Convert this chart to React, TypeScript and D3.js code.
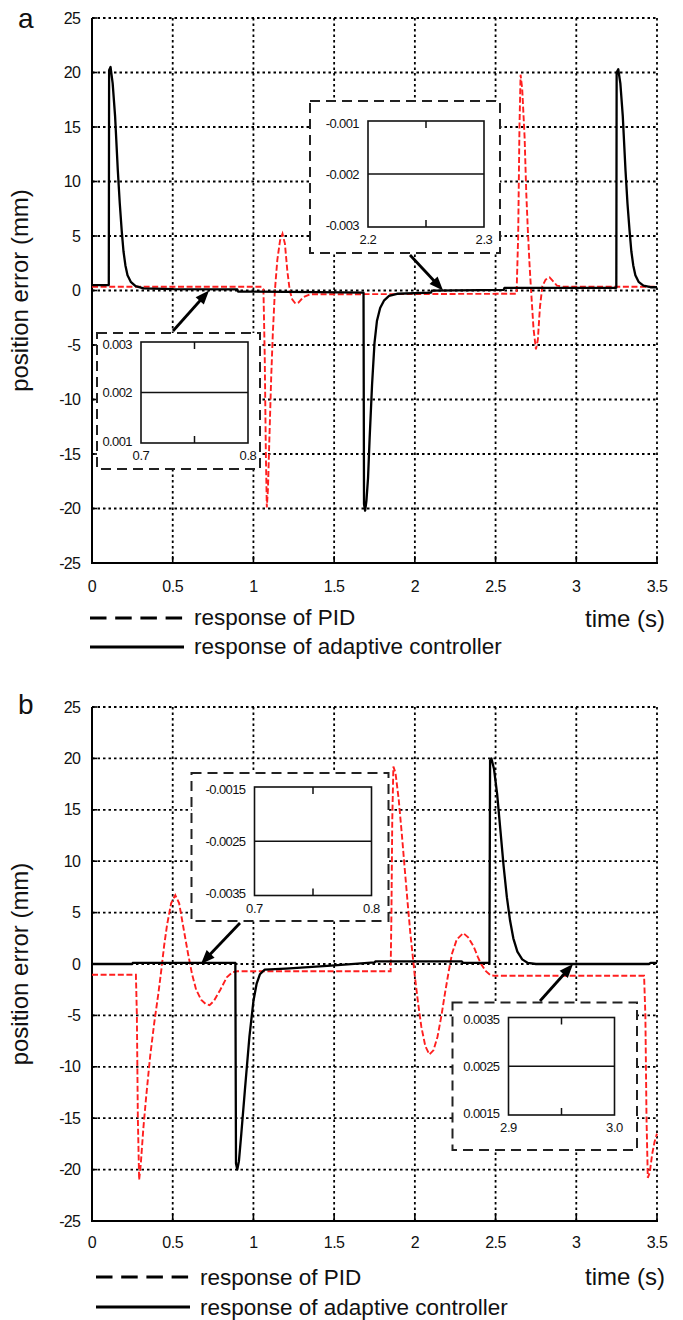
import React from "react";
import * as d3 from "d3";

type Pt = [number, number];

// ---------- data ----------
const xTicks = [0, 0.5, 1, 1.5, 2, 2.5, 3, 3.5];
const xTickLabels = ["0", "0.5", "1", "1.5", "2", "2.5", "3", "3.5"];
const yTicks = [25, 20, 15, 10, 5, 0, -5, -10, -15, -20, -25];
const yTickLabels = ["25", "20", "15", "10", "5", "0", "-5", "-10", "-15", "-20", "-25"];
const legendLabels = ["response of PID", "response of adaptive controller"];
const xTitle = "time (s)";
const yTitle = "position error (mm)";
const panelLetters = ["a", "b"];

const aAdaptive: Pt[] = [
  [0, 0.5], [0.104, 0.5], [0.106, 20.2], [0.115, 20.5], [0.128, 19], [0.143, 16], [0.16, 11], [0.172, 8],
  [0.184, 5.5], [0.195, 3.6], [0.207, 2.3], [0.22, 1.4], [0.24, 0.8], [0.27, 0.4], [0.32, 0.2], [0.5, 0.12],
  [0.9, 0.1], [0.905, -0.1], [1.4, -0.15], [1.682, -0.2], [1.685, -19.6], [1.692, -20.2], [1.7, -19.3],
  [1.71, -17.2], [1.72, -13.5], [1.735, -8.6], [1.75, -4.8], [1.765, -2.8], [1.785, -1.6], [1.81, -0.9],
  [1.84, -0.5], [1.89, -0.3], [2.1, -0.2], [2.105, -0.02], [2.55, 0.05], [2.555, 0.25], [3.248, 0.25],
  [3.25, 20.0], [3.26, 20.3], [3.273, 19], [3.288, 16], [3.305, 11], [3.317, 8], [3.33, 5.5], [3.341, 3.6],
  [3.353, 2.3], [3.366, 1.4], [3.386, 0.8], [3.416, 0.45], [3.46, 0.3], [3.5, 0.3],
];
const aPID: Pt[] = [
  [0, 0.35], [1.05, 0.35], [1.062, 0.1], [1.07, -6], [1.077, -15], [1.083, -19.9], [1.09, -18.2], [1.1, -13],
  [1.11, -8], [1.12, -4], [1.133, 0], [1.148, 2.8], [1.165, 4.6], [1.18, 5.2], [1.195, 4.3], [1.21, 1.8],
  [1.225, 0], [1.24, -0.8], [1.26, -1.2], [1.28, -1.1], [1.31, -0.6], [1.35, -0.35], [2.63, -0.3], [2.64, 5],
  [2.648, 15], [2.655, 19.8], [2.665, 18.5], [2.68, 14], [2.69, 9], [2.7, 5.5], [2.71, 2.5], [2.72, 0],
  [2.735, -3.5], [2.75, -5.4], [2.762, -4.5], [2.775, -1.5], [2.79, 0.4], [2.81, 1.0], [2.835, 1.2],
  [2.86, 0.8], [2.88, 0.45], [2.92, 0.35], [3.5, 0.35],
];
const bAdaptive: Pt[] = [
  [0, 0], [0.25, 0], [0.252, 0.1], [0.888, 0.1], [0.892, -19.4], [0.9, -20], [0.91, -19.2], [0.925, -16.5],
  [0.947, -12.3], [0.975, -7.1], [1.0, -3.6], [1.02, -1.9], [1.04, -1.0], [1.07, -0.55], [1.2, -0.45],
  [1.48, -0.15], [1.75, 0.15], [1.755, 0.25], [2.29, 0.25], [2.3, 0.1], [2.462, 0.12], [2.466, 19.8],
  [2.474, 20], [2.49, 19], [2.51, 16.5], [2.53, 13], [2.55, 9.5], [2.57, 6.5], [2.59, 4.2], [2.61, 2.5],
  [2.635, 1.2], [2.665, 0.45], [2.7, 0.1], [2.75, 0], [3.45, 0], [3.46, 0.1], [3.5, 0.1],
];
const bPID: Pt[] = [
  [0, -1.05], [0.272, -1.05], [0.278, -5], [0.284, -15], [0.292, -21.0], [0.302, -19.5], [0.318, -16],
  [0.335, -13], [0.36, -9], [0.385, -5.8], [0.41, -3], [0.43, -0.5], [0.447, 1.8], [0.465, 3.8], [0.49, 5.9],
  [0.516, 6.7], [0.54, 5.9], [0.57, 3.2], [0.595, 1.0], [0.62, -1.0], [0.645, -2.5], [0.677, -3.5],
  [0.705, -3.9], [0.728, -4.0], [0.755, -3.6], [0.795, -2.5], [0.835, -1.3], [0.87, -0.8], [0.9, -0.7],
  [1.85, -0.7], [1.855, 5], [1.86, 14], [1.867, 19.2], [1.88, 18.6], [1.9, 16], [1.92, 12.5], [1.936, 9.5],
  [1.955, 6], [1.972, 3.0], [2.0, -1.2], [2.02, -3.8], [2.04, -6.1], [2.065, -8.0], [2.09, -8.8],
  [2.115, -8.4], [2.14, -7.1], [2.165, -5.0], [2.186, -2.9], [2.21, -0.7], [2.23, 1.0], [2.26, 2.4],
  [2.3, 3.0], [2.33, 2.6], [2.364, 1.7], [2.39, 0.7], [2.41, 0.0], [2.44, -0.7], [2.47, -1.1], [2.5, -1.15],
  [3.42, -1.15], [3.428, -5], [3.435, -15], [3.443, -20.8], [3.455, -20.3], [3.47, -18.5], [3.485, -17.3],
  [3.5, -16.5],
];

// inset data (zoomed axes)
const insetA1Y = [0.001, 0.002, 0.003];
const insetA1YLabels = ["0.001", "0.002", "0.003"];
const insetA1X = [0.7, 0.8];
const insetA1XLabels = ["0.7", "0.8"];
const insetA1Level = 0.002;
const insetA1Target = 0.725;

const insetA2Y = [-0.003, -0.002, -0.001];
const insetA2YLabels = ["-0.003", "-0.002", "-0.001"];
const insetA2X = [2.2, 2.3];
const insetA2XLabels = ["2.2", "2.3"];
const insetA2Level = -0.002;
const insetA2Target = 2.175;

const insetB1Y = [-0.0035, -0.0025, -0.0015];
const insetB1YLabels = ["-0.0035", "-0.0025", "-0.0015"];
const insetB1X = [0.7, 0.8];
const insetB1XLabels = ["0.7", "0.8"];
const insetB1Level = -0.0025;
const insetB1Target = 0.675;

const insetB2Y = [0.0015, 0.0025, 0.0035];
const insetB2YLabels = ["0.0015", "0.0025", "0.0035"];
const insetB2X = [2.9, 3.0];
const insetB2XLabels = ["2.9", "3.0"];
const insetB2Level = 0.0025;
const insetB2Target = 2.98;

// ---------- layout ----------
const FONT = "'Liberation Sans', Arial, Helvetica, sans-serif";
const RED = "#ff1f1f";

const layoutA = {
  left: 92, right: 657, top: 18, bottom: 563, letterY: 28, tickLabelY: 592,
  legX1: 90, legX2: 184, legTextX: 194, legY1: 618, legY2: 647, legDy: 6.5, timeY: 627,
};
const layoutB = {
  left: 92, right: 657, top: 707, bottom: 1221, letterY: 714, tickLabelY: 1248,
  legX1: 96, legX2: 190, legTextX: 200, legY1: 1277, legY2: 1307, legDy: 7.5, timeY: 1285,
};

type InsetProps = {
  box: number[]; inner: number[]; yVals: number[]; yLabels: string[]; xVals: number[]; xLabels: string[];
  level: number; from: Pt; tip: Pt;
};

const Inset = ({ box, inner, yVals, yLabels, xVals, xLabels, level, from, tip }: InsetProps) => {
  const ix = d3.scaleLinear().domain([xVals[0], xVals[xVals.length - 1]]).range([inner[0], inner[2]]);
  const iy = d3.scaleLinear().domain([yVals[0], yVals[yVals.length - 1]]).range([inner[3], inner[1]]);
  const mid = (xVals[0] + xVals[xVals.length - 1]) / 2;
  const dx = tip[0] - from[0], dy = tip[1] - from[1];
  const len = Math.hypot(dx, dy);
  const ux = dx / len, uy = dy / len;
  const hl = 14, hw = 5.5;
  const bx = tip[0] - ux * hl, by = tip[1] - uy * hl;
  const head = `${tip[0]},${tip[1]} ${bx - uy * hw},${by + ux * hw} ${bx + uy * hw},${by - ux * hw}`;
  return (
    <g>
      <rect x={box[0]} y={box[1]} width={box[2] - box[0]} height={box[3] - box[1]} fill="#fff"
        stroke="#222" strokeWidth={2} strokeDasharray="10,6" />
      <rect x={inner[0]} y={inner[1]} width={inner[2] - inner[0]} height={inner[3] - inner[1]} fill="#fff"
        stroke="#111" strokeWidth={1.6} />
      <line x1={inner[0]} x2={inner[2]} y1={iy(level)} y2={iy(level)} stroke="#111" strokeWidth={1.5} />
      <line x1={ix(mid)} x2={ix(mid)} y1={inner[1]} y2={inner[1] + 7} stroke="#111" strokeWidth={1.5} />
      <line x1={ix(mid)} x2={ix(mid)} y1={inner[3]} y2={inner[3] - 7} stroke="#111" strokeWidth={1.5} />
      {yVals.map((v, i) => {
        const yy = iy(v) + (i === 0 ? -2 : i === yVals.length - 1 ? 2 : 0);
        return (
          <text key={"iy" + i} x={inner[0] - 9} y={yy} textAnchor="end" dominantBaseline="central"
            fontFamily={FONT} fontSize={13} fill="#111" letterSpacing={-0.6}>{yLabels[i]}</text>
        );
      })}
      {xVals.map((v, i) => (
        <text key={"ix" + i} x={ix(v)} y={inner[3] + 12.5} textAnchor="middle" dominantBaseline="central"
          fontFamily={FONT} fontSize={13} fill="#111" letterSpacing={-0.4}>{xLabels[i]}</text>
      ))}
      <line x1={from[0]} y1={from[1]} x2={bx + ux * 2} y2={by + uy * 2} stroke="#000" strokeWidth={2.8} />
      <polygon points={head} fill="#000" />
    </g>
  );
};

type PanelProps = {
  L: typeof layoutA; adaptive: Pt[]; pid: Pt[]; letter: string; id: string;
  insets: (x: d3.ScaleLinear<number, number>, y: d3.ScaleLinear<number, number>) => React.ReactNode;
};

const Panel = ({ L, adaptive, pid, letter, id, insets }: PanelProps) => {
  const x = d3.scaleLinear().domain([0, 3.5]).range([L.left, L.right]);
  const y = d3.scaleLinear().domain([-25, 25]).range([L.bottom, L.top]);
  const line = d3.line<Pt>().x((d) => x(d[0])).y((d) => y(d[1]));
  const gridStyle = { stroke: "#000", strokeWidth: 1.8, strokeDasharray: "2.5,3" };
  return (
    <g>
      <defs>
        <clipPath id={id}>
          <rect x={L.left} y={L.top - 2} width={L.right - L.left + 2} height={L.bottom - L.top + 2} />
        </clipPath>
      </defs>
      {xTicks.filter((t) => t > 0).map((t, i) => (
        <line key={"gx" + i} x1={x(t)} x2={x(t)} y1={L.top} y2={L.bottom} {...gridStyle} />
      ))}
      {yTicks.filter((v) => v > -25).map((v, i) => (
        <line key={"gy" + i} x1={L.left} x2={L.right} y1={y(v)} y2={y(v)} {...gridStyle} />
      ))}
      {xTicks.map((t, i) => (
        <line key={"tx" + i} x1={x(t)} x2={x(t)} y1={L.bottom} y2={L.bottom - 7} stroke="#000" strokeWidth={1.6} />
      ))}
      {yTicks.map((v, i) => (
        <line key={"ty" + i} x1={L.left} x2={L.left + 5} y1={y(v)} y2={y(v)} stroke="#000" strokeWidth={1.6} />
      ))}
      <line x1={L.left} x2={L.left} y1={L.top} y2={L.bottom} stroke="#000" strokeWidth={2} />
      <line x1={L.left - 1} x2={L.right + 1} y1={L.bottom} y2={L.bottom} stroke="#000" strokeWidth={2} />
      <g clipPath={`url(#${id})`}>
        <path d={line(pid) || ""} fill="none" stroke={RED} strokeWidth={1.9} strokeDasharray="6,2.6" />
        <path d={line(adaptive) || ""} fill="none" stroke="#000" strokeWidth={2.3} strokeLinejoin="round" />
      </g>
      {yTicks.map((v, i) => (
        <text key={"yl" + i} x={L.left - 12} y={y(v)} textAnchor="end" dominantBaseline="central"
          fontFamily={FONT} fontSize={16} fill="#111" letterSpacing={-0.8}>{yTickLabels[i]}</text>
      ))}
      {xTicks.map((t, i) => (
        <text key={"xl" + i} x={x(t)} y={L.tickLabelY} textAnchor="middle" fontFamily={FONT} fontSize={16}
          fill="#111" letterSpacing={-0.5}>{xTickLabels[i]}</text>
      ))}
      <text x={28} y={y(0)} transform={`rotate(-90 28 ${y(0)})`} textAnchor="middle" fontFamily={FONT}
        fontSize={24} fill="#111">{yTitle}</text>
      <text x={18} y={L.letterY} fontFamily={FONT} fontSize={28} fill="#111">{letter}</text>
      <text x={665} y={L.timeY} textAnchor="end" fontFamily={FONT} fontSize={24} fill="#111">{xTitle}</text>
      <line x1={L.legX1} x2={L.legX2} y1={L.legY1} y2={L.legY1} stroke="#000" strokeWidth={3}
        strokeDasharray="16.5,8.7" />
      <line x1={L.legX1} x2={L.legX2} y1={L.legY2} y2={L.legY2} stroke="#000" strokeWidth={3} />
      <text x={L.legTextX} y={L.legY1 + L.legDy} fontFamily={FONT} fontSize={22.5} fill="#111">{legendLabels[0]}</text>
      <text x={L.legTextX} y={L.legY2 + L.legDy} fontFamily={FONT} fontSize={22.5} fill="#111">{legendLabels[1]}</text>
      {insets(x, y)}
    </g>
  );
};

export default function App() {
  return (
    <svg width={683} height={1320} viewBox="0 0 683 1320"
      style={{ position: "absolute", left: 0, top: 0, background: "#fff" }}>
      <rect x={0} y={0} width={683} height={1320} fill="#fff" />
      <Panel L={layoutA} adaptive={aAdaptive} pid={aPID} letter={panelLetters[0]} id="clipA"
        insets={(x, y) => (
          <g>
            <Inset box={[97, 333, 260, 469]} inner={[141, 342, 248, 443]} yVals={insetA1Y}
              yLabels={insetA1YLabels} xVals={insetA1X} xLabels={insetA1XLabels} level={insetA1Level}
              from={[173, 331]} tip={[x(insetA1Target), y(0)]} />
            <Inset box={[310, 101, 500, 253]} inner={[368, 121, 484, 227]} yVals={insetA2Y}
              yLabels={insetA2YLabels} xVals={insetA2X} xLabels={insetA2XLabels} level={insetA2Level}
              from={[410, 255]} tip={[x(insetA2Target), y(0)]} />
          </g>
        )} />
      <Panel L={layoutB} adaptive={bAdaptive} pid={bPID} letter={panelLetters[1]} id="clipB"
        insets={(x, y) => (
          <g>
            <Inset box={[191.5, 773, 388.5, 921]} inner={[254.5, 787, 371.5, 895.5]} yVals={insetB1Y}
              yLabels={insetB1YLabels} xVals={insetB1X} xLabels={insetB1XLabels} level={insetB1Level}
              from={[240, 923]} tip={[x(insetB1Target), y(0)]} />
            <Inset box={[452.5, 1002.5, 637, 1150]} inner={[508.5, 1017.5, 614.5, 1115]} yVals={insetB2Y}
              yLabels={insetB2YLabels} xVals={insetB2X} xLabels={insetB2XLabels} level={insetB2Level}
              from={[540, 1001]} tip={[x(insetB2Target), y(0)]} />
          </g>
        )} />
    </svg>
  );
}
